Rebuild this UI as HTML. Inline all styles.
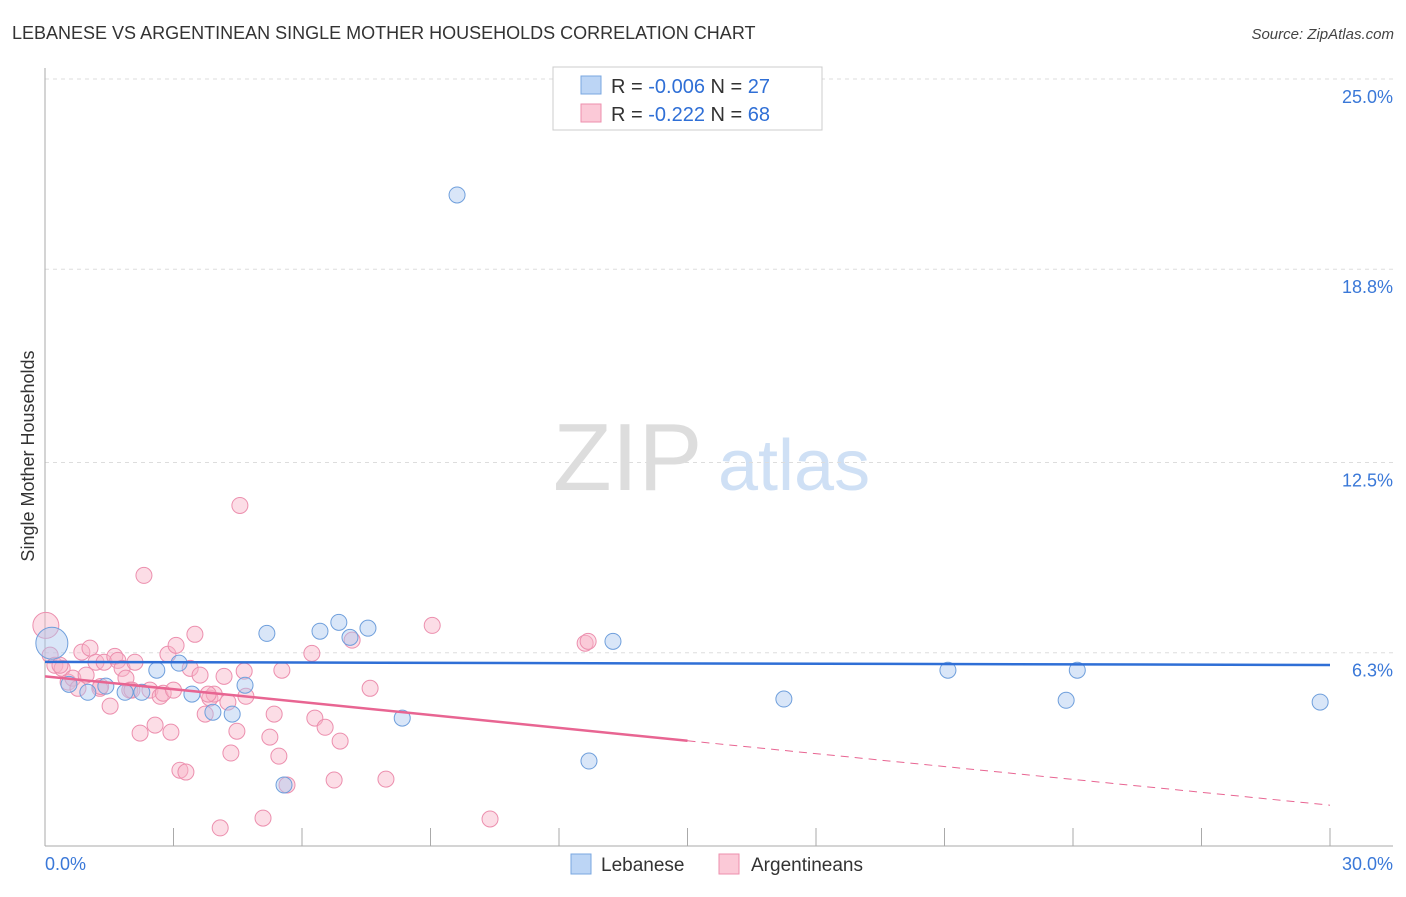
<!DOCTYPE html>
<html><head><meta charset="utf-8"><style>
body{margin:0;background:#fff;font-family:"Liberation Sans",sans-serif;}
svg text{font-family:"Liberation Sans",sans-serif;}
</style></head><body>
<svg id="chart" width="1406" height="892" xmlns="http://www.w3.org/2000/svg">
<text x="12" y="39" font-size="18" fill="#333">LEBANESE VS ARGENTINEAN SINGLE MOTHER HOUSEHOLDS CORRELATION CHART</text>
<text x="1394" y="39" font-size="15" fill="#444" text-anchor="end" font-style="italic">Source: ZipAtlas.com</text>
<text x="553" y="490" font-size="96" fill="#ddd" font-family="Liberation Serif">ZIP</text>
<text x="718" y="490" font-size="72" fill="#cfe0f5">atlas</text>
<g id="grid"></g>
<g id="axes"></g>
<g id="marks"></g>
<text transform="translate(34,456) rotate(-90)" font-size="18" fill="#333" text-anchor="middle">Single Mother Households</text>
<g>
<rect x="553" y="67" width="269" height="63" fill="#fff" stroke="#ccc"/>
<rect x="581" y="76" width="20" height="18" fill="#bcd5f5" stroke="#7aa7e0"/>
<rect x="581" y="104" width="20" height="18" fill="#fbc9d7" stroke="#ee8fae"/>
<text x="611" y="93" font-size="20" fill="#333">R = <tspan fill="#2f6fd6">-0.006</tspan>   N = <tspan fill="#2f6fd6">27</tspan></text>
<text x="611" y="121" font-size="20" fill="#333">R =  <tspan fill="#2f6fd6">-0.222</tspan>   N = <tspan fill="#2f6fd6">68</tspan></text>
</g>
<g>
<rect x="571" y="854" width="20" height="20" fill="#bcd5f5" stroke="#7aa7e0"/>
<text x="601" y="871" font-size="19" fill="#333">Lebanese</text>
<rect x="719" y="854" width="20" height="20" fill="#fbc9d7" stroke="#ee8fae"/>
<text x="751" y="871" font-size="19" fill="#333">Argentineans</text>
</g>
</svg>
<script>
const yTicks=[6.3,12.5,18.8,25.0];
const yTickLabels=["6.3%","12.5%","18.8%","25.0%"];
const xTickLabels=["0.0%","30.0%"];
const lebX=[9.62,0.16,0.56,1.0,1.42,1.87,2.26,2.61,3.13,3.43,3.92,4.37,4.67,5.18,6.42,6.86,7.12,7.54,8.34,5.58,12.7,13.26,17.25,21.08,23.84,24.1,29.77];
const lebY=[21.22,6.61,5.27,5.01,5.21,5.01,5.01,5.73,5.96,4.95,4.36,4.30,5.24,6.93,7.0,7.29,6.80,7.10,4.17,1.99,2.77,6.67,4.79,5.73,4.75,5.73,4.69];
const argX=[0.02,0.12,0.23,0.4,0.54,0.65,0.86,0.96,1.05,1.19,1.28,1.38,1.52,1.63,1.7,1.8,1.89,1.98,2.1,2.22,2.31,2.45,2.57,2.69,2.76,2.87,2.94,3.06,3.15,3.29,3.39,3.5,3.62,3.74,3.85,3.95,4.09,4.18,4.27,4.34,4.48,4.55,4.65,4.69,5.09,5.25,5.35,5.46,5.53,5.65,6.23,6.3,6.54,6.75,6.89,7.17,7.59,7.96,9.04,10.39,12.61,12.68,0.35,0.77,2.03,3.81,3.0,1.3];
const argY=[7.19,6.22,5.89,5.79,5.34,5.47,6.32,5.57,6.45,5.99,5.14,5.99,4.56,6.18,6.05,5.79,5.47,5.08,5.99,3.68,8.82,5.08,3.94,4.88,4.98,6.25,3.71,6.54,2.47,2.41,5.79,6.9,5.57,4.3,4.82,4.95,0.59,5.53,4.69,3.03,3.74,11.1,5.7,4.88,0.91,3.55,4.3,2.93,5.73,1.99,6.28,4.17,3.87,2.15,3.42,6.71,5.14,2.18,7.19,0.88,6.61,6.67,5.89,5.14,5.08,4.95,5.08,5.2];
const lebTrend=[6.0,5.9];
const argTrend=[5.53,1.33];
const argSolidEnd=15.0;
const NS="http://www.w3.org/2000/svg";
const X=v=>45+v*(1285/30);
const Y=v=>846-v*(767/25);
function mk(tag,attrs,parent){const e=document.createElementNS(NS,tag);for(const k in attrs)e.setAttribute(k,attrs[k]);parent.appendChild(e);return e;}
const grid=document.getElementById('grid'),axes=document.getElementById('axes'),marks=document.getElementById('marks');
yTicks.forEach((t,i)=>{
 const l=mk('line',{x1:45,x2:1393,y1:Y(t),y2:Y(t),stroke:'#ddd','stroke-dasharray':'4,4'},grid);
 
 
 const tx=mk('text',{x:1393,y:Y(t)+24,'font-size':18,fill:'#3a78d8','text-anchor':'end'},axes);
 tx.textContent=yTickLabels[i];
 
 
});
const ax=mk('line',{x1:45,x2:1393,y1:846,y2:846,stroke:'#aaa'},axes);


const ay=mk('line',{x1:45,x2:45,y1:68,y2:846,stroke:'#aaa'},axes);


for(let i=1;i<=10;i++){const tk=mk('line',{x1:X(i*3),x2:X(i*3),y1:828,y2:846,stroke:'#aaa'},axes);
 
 }
[[0,'start',45],[1,'end',1393]].forEach(([i,a,x])=>{const t=mk('text',{x:x,y:870,'font-size':18,fill:'#3a78d8','text-anchor':a},axes);t.textContent=xTickLabels[i];
 
 });
argX.forEach((x,i)=>{const c=mk('circle',{cx:X(x),cy:Y(argY[i]),r:i==0?13:8,fill:'rgba(248,180,200,0.45)',stroke:'#ec8fae','stroke-width':1},marks);
 
 });
lebX.forEach((x,i)=>{const c=mk('circle',{cx:X(x),cy:Y(lebY[i]),r:i==1?16:8,fill:'rgba(170,200,240,0.45)',stroke:'#6f9fdc','stroke-width':1},marks);
 
 });
const lt=mk('line',{x1:X(0),y1:Y(lebTrend[0]),x2:X(30),y2:Y(lebTrend[1]),stroke:'#2f6fd6','stroke-width':2.5},marks);


const am=argTrend[0]+(argTrend[1]-argTrend[0])*argSolidEnd/30;
const at=mk('line',{x1:X(0),y1:Y(argTrend[0]),x2:X(argSolidEnd),y2:Y(am),stroke:'#e86592','stroke-width':2.5},marks);


const ad=mk('line',{x1:X(argSolidEnd),y1:Y(am),x2:X(30),y2:Y(argTrend[1]),stroke:'#e86592','stroke-width':1,'stroke-dasharray':'8,6'},marks);


</script>
</body></html>
